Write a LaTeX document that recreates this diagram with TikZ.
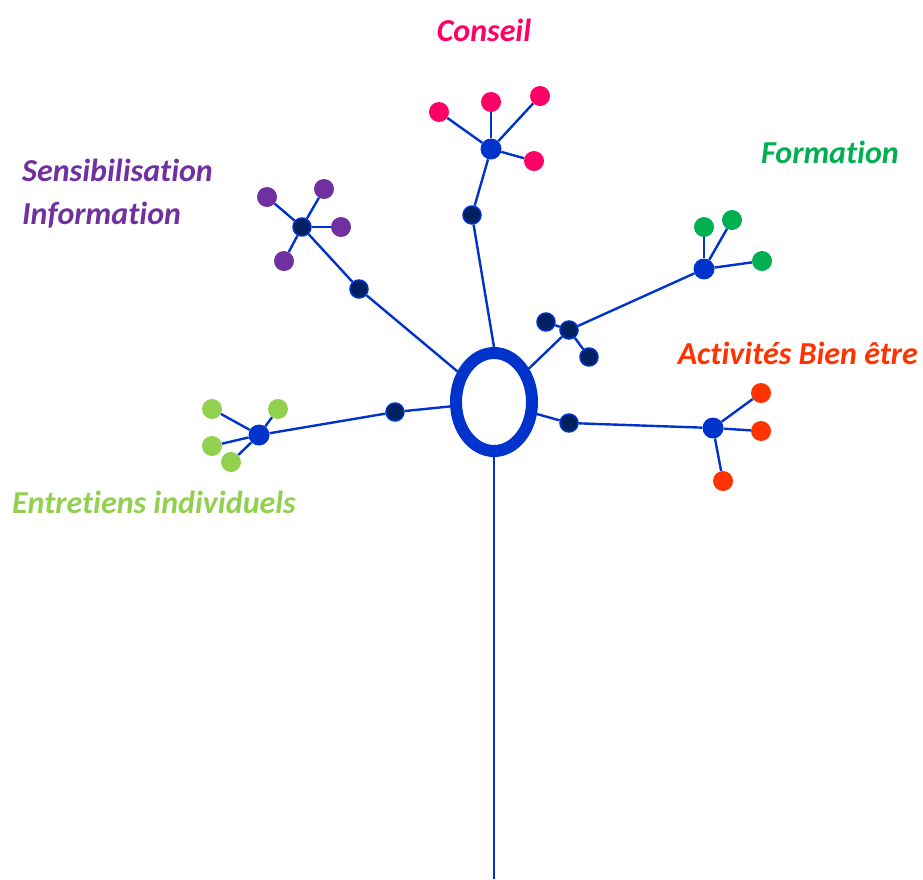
\documentclass[tikz,border=0pt]{standalone}
\usepackage{fontspec}
\setmainfont[RawFeature={-liga;-clig;-dlig;-calt}]{Carlito}
\usetikzlibrary{shapes.geometric}
\definecolor{trunkblue}{HTML}{0033CC}
\definecolor{darknavy}{HTML}{002060}
\definecolor{pinkc}{HTML}{FF0066}
\definecolor{purplec}{HTML}{7030A0}
\definecolor{greenc}{HTML}{00B050}
\definecolor{orangec}{HTML}{FF3300}
\definecolor{limec}{HTML}{92D050}
\tikzset{
  leaf/.style={circle, fill=#1, inner sep=0pt, minimum size=20pt},
  hub/.style={circle, fill=trunkblue, inner sep=0pt, minimum size=21pt},
  knot/.style={circle, fill=darknavy, draw=trunkblue, line width=1.5pt, inner sep=0pt, minimum size=18pt},
  twig/.style={draw=trunkblue, line width=2.4pt},
  title/.style={font=\fontsize{32}{36}\selectfont\bfseries\itshape, text=#1, inner sep=0pt}
}
\begin{document}
\begin{tikzpicture}[x=1pt, y=-1pt]
  \useasboundingbox (0,0) rectangle (923,879);

  % centre and trunk
  \node[ellipse, draw=trunkblue, line width=12pt, minimum width=76pt, minimum height=98pt, inner sep=0pt] (ring) at (494,402) {};
  \coordinate (root) at (494,879);
  \draw[twig] (ring.south) -- (root);

  % Conseil
  \node[knot] (ck) at (472,215) {};
  \node[hub] (ch) at (491,149) {};
  \node[leaf=pinkc] (c1) at (439,112) {};
  \node[leaf=pinkc] (c2) at (491,102) {};
  \node[leaf=pinkc] (c3) at (540,96) {};
  \node[leaf=pinkc] (c4) at (534,161) {};
  \draw[twig] (ring.north) -- (ck) -- (ch);
  \foreach \l in {c1,c2,c3,c4} \draw[twig] (ch) -- (\l);
  \node[title=pinkc] (tc) at (484,30) {Conseil};

  % Sensibilisation Information
  \node[knot] (sk) at (359,289) {};
  \node[knot] (sh) at (302,227) {};
  \node[leaf=purplec] (s1) at (267,197) {};
  \node[leaf=purplec] (s2) at (324,189) {};
  \node[leaf=purplec] (s3) at (341,227) {};
  \node[leaf=purplec] (s4) at (284,261) {};
  \draw[twig] (ring) -- (sk) -- (sh);
  \foreach \l in {s1,s2,s3,s4} \draw[twig] (sh) -- (\l);
  \node[title=purplec, anchor=west] (ts1) at (22,170) {Sensibilisation};
  \node[title=purplec, anchor=west] (ts2) at (22,215) {Information};

  % Formation
  \node[knot] (fk) at (569,330) {};
  \node[knot] (fa) at (546,322) {};
  \node[knot] (fb) at (589,357) {};
  \node[hub] (fh) at (704,269) {};
  \node[leaf=greenc] (f1) at (704,227) {};
  \node[leaf=greenc] (f2) at (732,220) {};
  \node[leaf=greenc] (f3) at (762,261) {};
  \draw[twig] (ring) -- (fk) -- (fh);
  \draw[twig] (fk) -- (fa);
  \draw[twig] (fk) -- (fb);
  \foreach \l in {f1,f2,f3} \draw[twig] (fh) -- (\l);
  \node[title=greenc] (tf) at (830,152) {Formation};

  % Activites Bien etre
  \node[knot] (ak) at (569,423) {};
  \node[hub] (ah) at (713,428) {};
  \node[leaf=orangec] (a1) at (761,393) {};
  \node[leaf=orangec] (a2) at (761,431) {};
  \node[leaf=orangec] (a3) at (723,481) {};
  \draw[twig] (ring) -- (ak) -- (ah);
  \foreach \l in {a1,a2,a3} \draw[twig] (ah) -- (\l);
  \node[title=orangec, anchor=east] (ta) at (918,353) {Activités Bien être};

  % Entretiens individuels
  \node[knot] (ek) at (395,412) {};
  \node[hub] (eh) at (259,435) {};
  \node[leaf=limec] (e1) at (212,409) {};
  \node[leaf=limec] (e2) at (278,409) {};
  \node[leaf=limec] (e3) at (212,446) {};
  \node[leaf=limec] (e4) at (231,462) {};
  \draw[twig] (ring) -- (ek) -- (eh);
  \foreach \l in {e1,e2,e3,e4} \draw[twig] (eh) -- (\l);
  \node[title=limec, anchor=west] (te) at (12,502) {Entretiens individuels};
\end{tikzpicture}
\end{document}
